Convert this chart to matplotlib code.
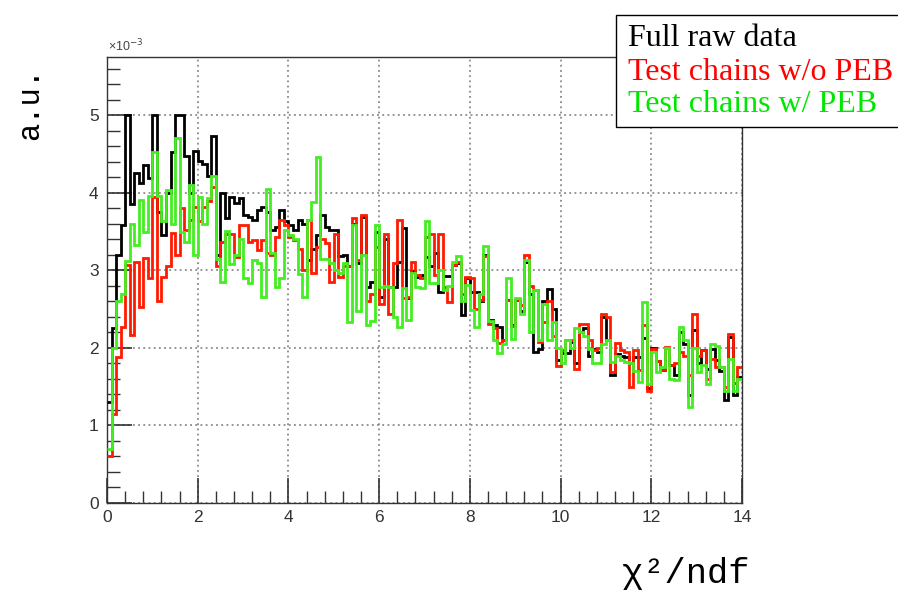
import numpy as np
import matplotlib
matplotlib.use("Agg")
import matplotlib.pyplot as plt
from matplotlib.patches import Rectangle
from matplotlib.ticker import MultipleLocator

# ---- data (units of 1e-3), 140 bins of width 0.1 over chi2/ndf in [0, 14] ----
bin_lo, bin_hi, n_bins = 0.0, 14.0, 140

full_raw = [
    1.3, 2.25, 3.2, 3.59, 5.0, 3.85, 4.25, 4.12, 4.36, 4.19,
    5.0, 3.75, 3.45, 4.0, 4.53, 5.0, 5.0, 4.47, 4.0, 4.54,
    4.41, 4.37, 4.21, 4.73, 3.2, 4.0, 3.67, 3.95, 3.87, 3.93,
    3.71, 3.69, 3.65, 3.78, 3.82, 3.75, 3.52, 3.56, 3.78, 3.63,
    3.58, 3.52, 3.65, 3.6, 3.13, 3.28, 3.45, 3.71, 3.56, 3.52,
    3.52, 3.18, 3.2, 3.05, 3.6, 3.09, 3.69, 2.79, 2.85, 3.5,
    2.66, 3.4, 2.79, 2.79, 3.11, 3.54, 2.64, 2.99, 2.92, 2.94,
    3.17, 3.05, 3.22, 2.72, 2.93, 2.93, 3.07, 3.1, 2.42, 2.9,
    2.72, 2.72, 2.6, 3.2, 2.36, 2.3, 2.27, 2.1, 2.62, 2.3,
    2.62, 2.47, 3.11, 2.7, 1.95, 1.99, 2.61, 2.76, 2.5, 1.84,
    1.93, 1.93, 2.08, 1.8, 2.2, 2.25, 1.9, 1.99, 1.95, 2.4,
    2.1, 1.65, 1.92, 1.9, 1.88, 1.8, 1.88, 1.88, 2.13, 1.48,
    2.0, 1.83, 1.71, 2.0, 1.78, 1.65, 2.2, 2.05, 1.39, 2.23,
    1.8, 1.97, 1.73, 1.98, 1.85, 1.7, 1.33, 2.14, 1.39, 1.62,
]

no_peb = [
    0.6, 1.15, 1.88, 2.27, 3.07, 2.16, 3.11, 2.53, 3.16, 2.9,
    3.95, 2.6, 2.92, 3.05, 3.48, 3.2, 3.8, 3.52, 3.65, 3.81,
    3.64, 3.82, 3.89, 4.08, 3.05, 3.36, 3.47, 3.47, 3.17, 3.58,
    3.58, 3.37, 3.39, 3.26, 3.39, 3.22, 3.2, 3.43, 3.65, 3.58,
    3.43, 3.39, 3.28, 3.0, 3.65, 2.96, 3.3, 3.41, 3.35, 2.85,
    3.47, 2.92, 3.05, 3.05, 3.67, 3.13, 3.71, 2.61, 2.7, 3.3,
    2.57, 3.47, 2.44, 3.1, 3.65, 2.64, 2.65, 3.11, 2.94, 2.9,
    3.43, 3.47, 2.94, 3.47, 2.78, 2.59, 3.07, 3.11, 2.7, 2.92,
    2.9, 2.5, 2.62, 3.18, 2.31, 2.26, 2.06, 2.1, 2.62, 2.28,
    2.62, 2.55, 3.2, 2.8, 2.75, 2.08, 2.33, 2.61, 2.15, 1.76,
    1.97, 2.1, 2.1, 1.73, 2.31, 2.31, 2.1, 1.97, 2.0, 2.44,
    2.4, 1.69, 2.06, 1.97, 1.95, 1.5, 1.97, 1.71, 2.29, 1.45,
    1.99, 1.83, 1.71, 2.01, 1.78, 1.8, 1.95, 1.9, 1.65, 2.44,
    1.9, 1.97, 1.6, 1.86, 1.75, 1.75, 1.5, 2.18, 1.55, 1.75,
]

with_peb = [
    0.7, 2.0, 2.6, 2.7, 3.12, 3.6, 3.33, 3.91, 3.49, 3.96,
    4.52, 3.96, 3.64, 4.04, 3.6, 4.7, 3.5, 3.37, 4.1, 3.2,
    3.94, 3.6, 3.93, 4.22, 3.15, 2.85, 3.51, 3.08, 3.2, 3.4,
    2.9, 2.83, 3.13, 3.1, 2.66, 4.05, 3.22, 2.79, 2.9, 3.52,
    3.45, 3.4, 2.95, 2.66, 3.65, 3.88, 4.46, 3.15, 3.15, 3.09,
    3.0, 2.96, 3.1, 2.33, 3.58, 2.48, 3.2, 2.3, 2.35, 3.58,
    2.79, 2.8, 2.79, 2.4, 2.27, 2.77, 2.36, 2.96, 2.79, 2.77,
    3.63, 2.83, 2.83, 3.0, 2.74, 2.8, 3.11, 3.19, 2.6, 2.81,
    2.49, 2.27, 2.7, 3.31, 2.34, 2.1, 1.93, 2.05, 2.9, 2.12,
    2.64, 2.44, 3.13, 2.2, 2.75, 2.1, 2.57, 2.1, 2.33, 2.0,
    1.8, 2.1, 2.0, 2.25, 2.2, 2.15, 1.98, 1.8, 1.8, 2.05,
    2.1, 1.82, 1.9, 1.84, 1.82, 1.8, 1.7, 1.56, 2.59, 1.54,
    1.95, 1.69, 1.75, 2.0, 1.6, 1.58, 2.27, 2.1, 1.24, 2.0,
    1.69, 1.78, 1.54, 2.05, 2.03, 1.75, 1.45, 1.86, 1.45, 1.6,
]

legend_labels = ["Full raw data", "Test chains w/o PEB", "Test chains w/ PEB"]
x_ticks = [0, 2, 4, 6, 8, 10, 12, 14]
y_ticks = [0, 1, 2, 3, 4, 5]

# ---- figure ----
W, H = 898, 593
fig = plt.figure(figsize=(W / 100, H / 100), dpi=100)
L, R, T, B = 107, 742, 57, 503
ax = fig.add_axes([L / W, 1 - B / H, (R - L) / W, (B - T) / H])

edges = np.linspace(bin_lo, bin_hi, n_bins + 1)
c_black, c_red, c_green = "#000000", "#ff1a00", "#44ee22"
ax.stairs(full_raw, edges, color=c_black, lw=2.0, baseline=None, zorder=3)
ax.stairs(no_peb, edges, color=c_red, lw=2.0, baseline=None, zorder=4)
ax.stairs(with_peb, edges, color=c_green, lw=2.0, baseline=None, zorder=5)

ax.set_xlim(0, 14)
ax.set_ylim(0, 5.75)
ax.set_xticks(x_ticks)
ax.set_yticks(y_ticks)
ax.xaxis.set_minor_locator(MultipleLocator(0.4))
ax.yaxis.set_minor_locator(MultipleLocator(0.2))
ax.tick_params(axis="both", which="both", direction="in", top=False, right=False)
ax.tick_params(axis="both", which="major", length=18, width=1.2, color="#333333",
               labelsize=12.5, labelcolor="#333333")
ax.tick_params(axis="both", which="minor", length=9, width=1.0, color="#333333")
ax.tick_params(axis="x", which="major", pad=5)
ax.tick_params(axis="y", which="major", pad=6)
for lab in ax.get_xticklabels() + ax.get_yticklabels():
    lab.set_family("Liberation Sans")
ax.grid(True, which="major", color="#777777", linestyle=(0, (1.2, 2.2)), lw=1.1)
for s in ax.spines.values():
    s.set_color("#333333")
    s.set_linewidth(1.0)

fig.text(108 / W, 1 - 46 / H, "×10$^{-3}$", fontsize=9, color="#444444",
         family="Liberation Sans", ha="left", va="center")

fig.text(30 / W, 1 - 103 / H, "a.u.", rotation=90, fontsize=22,
         family="Liberation Mono", ha="center", va="center")
fig.text(686 / W, 1 - 573 / H, "χ²/ndf", fontsize=25.5,
         family=["Liberation Mono", "DejaVu Sans Mono"], ha="center", va="center")

# legend box (extends past the right edge as in the reference)
fig.patches.append(Rectangle((616 / W, 1 - 127 / H), 300 / W, 112 / H,
                             transform=fig.transFigure, facecolor="white",
                             edgecolor="black", lw=1.0, zorder=10))
for i, (lab, col) in enumerate(zip(legend_labels, ["#000000", "#ff0000", "#00e600"])):
    fig.text(628 / W, 1 - (39 + 33 * i) / H, lab, fontsize=23, color=col,
             family="Liberation Serif", ha="left", va="center", zorder=11)

fig.savefig("out.png", dpi=100)
